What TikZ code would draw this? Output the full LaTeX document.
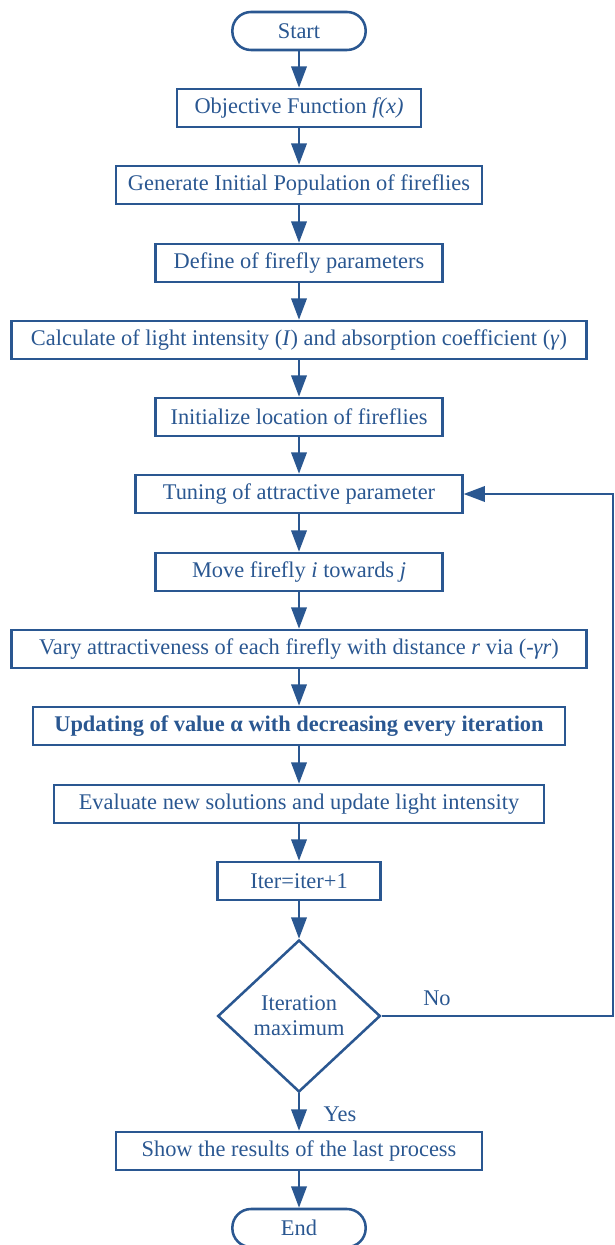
\documentclass[tikz,border=0pt]{standalone}
\usepackage{fontspec}
\setmainfont{Liberation Serif}
\usetikzlibrary{arrows.meta}
\usetikzlibrary{shapes.geometric}
\definecolor{fcblue}{RGB}{42,87,145}

\begin{document}
\begin{tikzpicture}[x=0.75pt,y=0.75pt,yscale=-1,xscale=1,
  every node/.style={font=\fontsize{16.8}{19}\selectfont, text=fcblue},
  procbox/.style={draw=fcblue, line width=1.9pt, minimum height=28.5pt, inner sep=0pt},
  termbox/.style={procbox, rounded corners=14pt, minimum width=100pt},
  decbox/.style={draw=fcblue, line width=1.9pt, diamond, minimum width=122pt, minimum height=114pt, inner sep=0pt, align=center},
  arr/.style={draw=fcblue, line width=1.9pt, -{Triangle[length=16pt,width=11.5pt]}}]
\useasboundingbox (0,0) rectangle (614,1245);

% Terminals and process boxes
\node [termbox] (start) at (299,31) {Start};
\node [procbox, minimum width=183pt] (obj) at (299,108) {Objective Function \textit{f(x)}};
\node [procbox, minimum width=274.5pt] (gen) at (299,185) {Generate Initial Population of fireflies};
\node [procbox, minimum width=215pt] (def) at (299,263) {Define of firefly parameters};
\node [procbox, minimum width=431pt] (calc) at (299,340) {Calculate of light intensity (\textit{I}) and absorption coefficient (\textit{γ})};
\node [procbox, minimum width=215pt] (init) at (299,417) {Initialize location of fireflies};
\node [procbox, minimum width=245pt] (tune) at (299,494) {Tuning of attractive parameter};
\node [procbox, minimum width=215pt] (move) at (299,572) {Move firefly \textit{i} towards \textit{j}};
\node [procbox, minimum width=431pt] (vary) at (299,649) {Vary attractiveness of each firefly with distance \textit{r} via (\textit{-γr})};
\node [procbox, minimum width=399pt] (upd) at (299,726) {\textbf{Updating of value α with decreasing every iteration}};
\node [procbox, minimum width=367.5pt] (eval) at (299,804) {Evaluate new solutions and update light intensity};
\node [procbox, minimum width=122pt] (iter) at (299,881) {Iter=iter+1};
\node [decbox] (dec) at (299,1016) {Iteration\\maximum};
\node [procbox, minimum width=274.5pt] (show) at (299,1151) {Show the results of the last process};
\node [termbox] (end) at (299,1228) {End};

% Labels
\node (nolab) at (437,998) {No};
\node (yeslab) at (340,1114) {Yes};

% Connectors
\draw [arr] (start) -- (obj);
\draw [arr] (obj) -- (gen);
\draw [arr] (gen) -- (def);
\draw [arr] (def) -- (calc);
\draw [arr] (calc) -- (init);
\draw [arr] (init) -- (tune);
\draw [arr] (tune) -- (move);
\draw [arr] (move) -- (vary);
\draw [arr] (vary) -- (upd);
\draw [arr] (upd) -- (eval);
\draw [arr] (eval) -- (iter);
\draw [arr] (iter) -- (dec);
\draw [arr] (dec) -- (show);
\draw [arr] (show) -- (end);

% Loop back
\coordinate (loopc) at (613,1016);
\draw [arr] (dec.east) -- (loopc) |- (tune.east);

\end{tikzpicture}
\end{document}
